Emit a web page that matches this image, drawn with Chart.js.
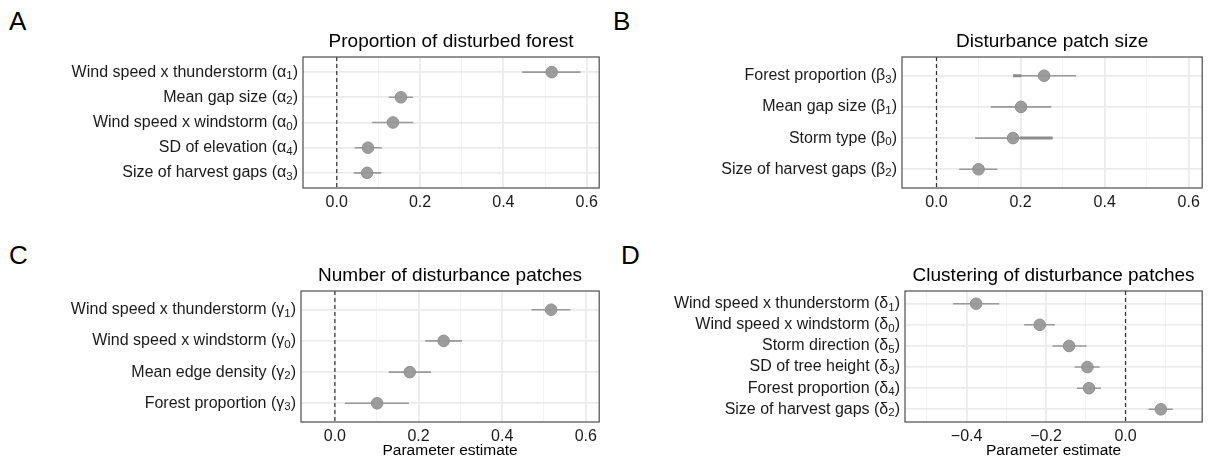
<!DOCTYPE html>
<html>
<head>
<meta charset="utf-8">
<script src="https://cdn.jsdelivr.net/npm/chart.js@4.4.1/dist/chart.umd.min.js"></script>
<style>
  body { margin: 0; background: #fff; }
  #wrap { position: relative; width: 1209px; height: 459px; overflow: hidden; }
  canvas { position: absolute; }
  .tag { position: absolute; font: 26px "Liberation Sans", Arial, sans-serif; line-height: 26px; color: #000; }
</style>
</head>
<body>
<div id="wrap">
  <div class="tag" style="left:9px;top:8px">A</div>
  <div class="tag" style="left:613px;top:8px">B</div>
  <div class="tag" style="left:9px;top:242px">C</div>
  <div class="tag" style="left:621px;top:242px">D</div>
  <canvas id="chartA" width="606" height="200" style="left:0;top:30px"></canvas>
  <canvas id="chartB" width="603" height="200" style="left:606px;top:30px"></canvas>
  <canvas id="chartC" width="606" height="197" style="left:0;top:262px"></canvas>
  <canvas id="chartD" width="603" height="197" style="left:606px;top:262px"></canvas>
</div>
<script>
// A - proportion of disturbed forest
const labelsA = ['Wind speed x thunderstorm (α₁)', 'Mean gap size (α₂)', 'Wind speed x windstorm (α₀)', 'SD of elevation (α₄)', 'Size of harvest gaps (α₃)'];
const estA = [0.516, 0.154, 0.135, 0.075, 0.073];
const lowA = [0.445, 0.125, 0.085, 0.043, 0.041];
const highA = [0.585, 0.183, 0.184, 0.108, 0.107];

// B - disturbance patch size
const labelsB = ['Forest proportion (β₃)', 'Mean gap size (β₁)', 'Storm type (β₀)', 'Size of harvest gaps (β₂)'];
const estB = [0.256, 0.201, 0.182, 0.100];
const lowB = [0.182, 0.129, 0.092, 0.054];
const highB = [0.332, 0.273, 0.276, 0.145];
// darker overlapping bits seen on two of the intervals
const overLowB = [0.182, null, 0.198, null];
const overHighB = [0.202, null, 0.276, null];

// C - number of disturbance patches
const labelsC = ['Wind speed x thunderstorm (γ₁)', 'Wind speed x windstorm (γ₀)', 'Mean edge density (γ₂)', 'Forest proportion (γ₃)'];
const estC = [0.517, 0.260, 0.179, 0.101];
const lowC = [0.470, 0.216, 0.129, 0.024];
const highC = [0.563, 0.304, 0.230, 0.177];

// D - clustering of disturbance patches
const labelsD = ['Wind speed x thunderstorm (δ₁)', 'Wind speed x windstorm (δ₀)', 'Storm direction (δ₅)', 'SD of tree height (δ₃)', 'Forest proportion (δ₄)', 'Size of harvest gaps (δ₂)'];
const estD = [-0.376, -0.216, -0.142, -0.096, -0.092, 0.089];
const lowD = [-0.434, -0.255, -0.184, -0.128, -0.122, 0.058];
const highD = [-0.318, -0.178, -0.098, -0.065, -0.062, 0.119];

// x axis ticks
const majorTicksPos = [0, 0.2, 0.4, 0.6];
const minorTicksPos = [0.1, 0.3, 0.5];
const majorTicksD = [-0.4, -0.2, 0];
const minorTicksD = [-0.5, -0.3, -0.1, 0.1];

const FONT = '"Liberation Sans", Arial, sans-serif';
Chart.defaults.font.family = FONT;
Chart.defaults.color = '#1a1a1a';

// "Mean gap size (α₂)" -> ['Mean gap size (α', '2', ')']
function splitSub(label) {
  const m = label.match(/^(.*?)([\u2080-\u2089]+)(.*)$/);
  if (!m) return [label, '', ''];
  const sub = [...m[2]].map(c => String.fromCharCode(c.charCodeAt(0) - 0x2080 + 48)).join('');
  return [m[1], sub, m[3]];
}

const panelDecor = {
  id: 'panelDecor',
  beforeDatasetsDraw(chart, args, opts) {
    const { ctx, chartArea: a, scales } = chart;
    const x0 = scales.x.getPixelForValue(0);
    ctx.save();
    ctx.strokeStyle = '#333';
    ctx.lineWidth = 1.2;
    ctx.setLineDash([4, 3]);
    ctx.beginPath();
    ctx.moveTo(x0, a.top);
    ctx.lineTo(x0, a.bottom);
    ctx.stroke();
    ctx.restore();
  },
  afterDraw(chart, args, opts) {
    const { ctx, chartArea: a, scales } = chart;
    ctx.save();
    ctx.strokeStyle = '#4d4d4d';
    ctx.lineWidth = 1.2;
    ctx.strokeRect(a.left, a.top, a.right - a.left, a.bottom - a.top);

    // panel title, centred over the plot box
    ctx.fillStyle = '#000';
    ctx.font = '19px ' + FONT;
    ctx.textAlign = 'center';
    ctx.textBaseline = 'alphabetic';
    ctx.fillText(opts.title, (a.left + a.right) / 2, a.top - 10);

    // category labels with real subscripts
    ctx.fillStyle = '#1a1a1a';
    ctx.textAlign = 'left';
    ctx.textBaseline = 'middle';
    const big = '16px ' + FONT, small = '11.5px ' + FONT;
    opts.labels.forEach((lab, i) => {
      const [pre, sub, post] = splitSub(lab);
      const y = scales.y.getPixelForValue(i + 1);
      ctx.font = big;
      const w1 = ctx.measureText(pre).width, w3 = ctx.measureText(post).width;
      ctx.font = small;
      const w2 = ctx.measureText(sub).width;
      let x = a.left - 5 - (w1 + w2 + w3);
      ctx.font = big;
      ctx.fillText(pre, x, y);
      x += w1;
      ctx.font = small;
      ctx.fillText(sub, x, y + 4);
      x += w2;
      ctx.font = big;
      ctx.fillText(post, x, y);
    });
    ctx.restore();
  }
};

function fmt(v) {
  const s = Math.abs(v).toFixed(1);
  return v < -1e-9 ? '−' + s : s;
}

function makePanel(id, p) {
  const n = p.labels.length;
  const isMajor = v => p.major.some(m => Math.abs(m - v) < 1e-9);
  const allTicks = p.major.concat(p.minor).sort((a, b) => a - b);

  const datasets = [];
  p.est.forEach((e, i) => {
    datasets.push({
      type: 'line',
      data: [{ x: p.low[i], y: i + 1 }, { x: p.high[i], y: i + 1 }],
      borderColor: '#9a9a9a',
      borderWidth: 1.6,
      pointRadius: 0,
      order: 2
    });
  });
  if (p.overLow) {
    p.overLow.forEach((lo, i) => {
      if (lo === null) return;
      datasets.push({
        type: 'line',
        data: [{ x: lo, y: i + 1 }, { x: p.overHigh[i], y: i + 1 }],
        borderColor: '#8c8c8c',
        borderWidth: 3,
        pointRadius: 0,
        order: 1
      });
    });
  }
  datasets.push({
    type: 'scatter',
    data: p.est.map((e, i) => ({ x: e, y: i + 1 })),
    backgroundColor: 'rgba(152,152,152,0.95)',
    borderColor: '#8f8f8f',
    borderWidth: 1,
    pointRadius: 5.8,
    order: 0
  });

  return new Chart(document.getElementById(id), {
    type: 'scatter',
    data: { datasets },
    options: {
      responsive: false,
      animation: false,
      events: [],
      layout: { padding: { left: 0, right: p.padRight, top: p.padTop, bottom: 0 } },
      plugins: {
        legend: { display: false },
        tooltip: { enabled: false },
        panelDecor: { title: p.title, labels: p.labels }
      },
      scales: {
        x: {
          type: 'linear',
          min: p.range[0],
          max: p.range[1],
          afterBuildTicks: s => { s.ticks = allTicks.map(v => ({ value: v })); },
          afterFit: s => { s.height = p.xHeight; },
          grid: {
            color: ctx => isMajor(ctx.tick.value) ? '#ebebeb' : '#f3f3f3',
            lineWidth: ctx => isMajor(ctx.tick.value) ? 1.8 : 1,
            drawTicks: false
          },
          border: { display: false },
          ticks: {
            padding: 5,
            autoSkip: false,
            maxRotation: 0,
            font: { size: 16 },
            color: '#1a1a1a',
            callback: v => isMajor(v) ? fmt(v) : ''
          },
          title: {
            display: !!p.xTitle,
            text: p.xTitle || '',
            font: { size: 15.5 },
            color: '#000',
            padding: { top: 0, bottom: -1 }
          }
        },
        y: {
          type: 'linear',
          reverse: true,
          min: 0.4,
          max: n + 0.6,
          afterBuildTicks: s => { s.ticks = p.labels.map((l, i) => ({ value: i + 1 })); },
          afterFit: s => { s.width = p.yWidth; },
          grid: { color: '#ebebeb', lineWidth: 1.8, drawTicks: false },
          border: { display: false },
          ticks: { display: false }
        }
      }
    },
    plugins: [panelDecor]
  });
}

makePanel('chartA', {
  title: 'Proportion of disturbed forest',
  labels: labelsA, est: estA, low: lowA, high: highA,
  major: majorTicksPos, minor: minorTicksPos, range: [-0.081, 0.63],
  yWidth: 303, padRight: 6, padTop: 27, xHeight: 42
});
makePanel('chartB', {
  title: 'Disturbance patch size',
  labels: labelsB, est: estB, low: lowB, high: highB,
  overLow: overLowB, overHigh: overHighB,
  major: majorTicksPos, minor: minorTicksPos, range: [-0.082, 0.632],
  yWidth: 296, padRight: 6, padTop: 27, xHeight: 42
});
makePanel('chartC', {
  title: 'Number of disturbance patches',
  labels: labelsC, est: estC, low: lowC, high: highC,
  major: majorTicksPos, minor: minorTicksPos, range: [-0.081, 0.632],
  yWidth: 301, padRight: 6, padTop: 29, xHeight: 37, xTitle: 'Parameter estimate'
});
makePanel('chartD', {
  title: 'Clustering of disturbance patches',
  labels: labelsD, est: estD, low: lowD, high: highD,
  major: majorTicksD, minor: minorTicksD, range: [-0.555, 0.193],
  yWidth: 299, padRight: 6, padTop: 29, xHeight: 37, xTitle: 'Parameter estimate'
});
</script>
</body>
</html>
